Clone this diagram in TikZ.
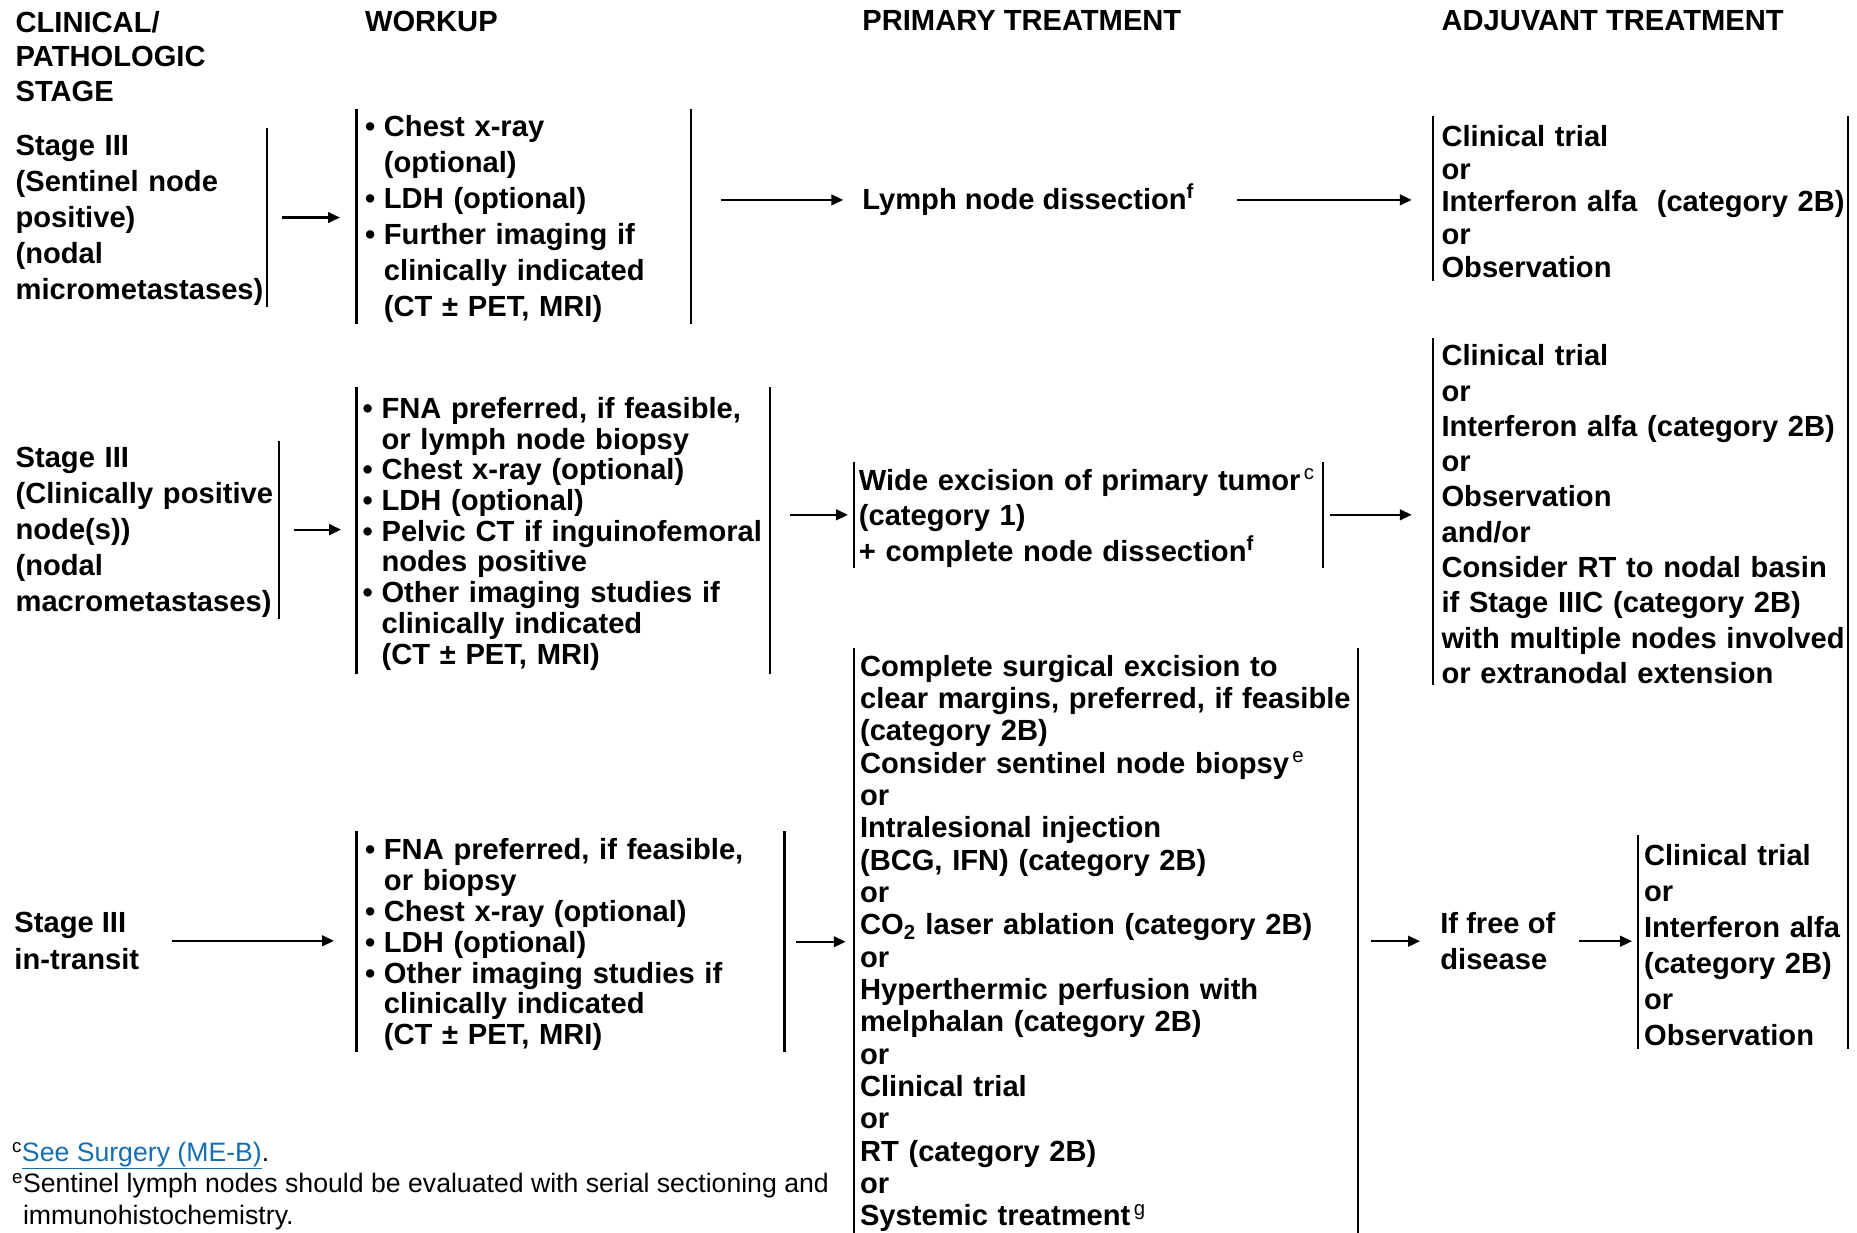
\documentclass[tikz,border=0pt]{standalone}
\usepackage{fontspec}
\setmainfont{Liberation Sans}
\usepackage{tikz}
\usetikzlibrary{arrows.meta}
\hyphenpenalty=10000
\exhyphenpenalty=10000
\definecolor{link}{RGB}{20,110,175}
\tikzset{>={Triangle[length=10pt,width=9pt]}}
\newcommand\barwidth{1.8pt}
\newcommand\bulletbox{16pt}
\newcommand\bul{\makebox[\bulletbox][l]{\textbullet}}
\newcommand\bcont{\hspace*{\bulletbox}}
\tikzset{
    lead/.style = {font=\bfseries\fontsize{24.6}{#1}\selectfont},
    txt/.style = {inner sep=0pt, anchor=north west, align=left},
    nodesc/.style = {execute at end node={\par\kern-5pt}},
    blk/.style = {txt, nodesc, inner xsep=7pt},
    bar/.style = {line width=\barwidth},
    arr/.style = {->, line width=\barwidth},
}

\begin{document}
\begin{tikzpicture}[x=1pt, y=-1pt, every node/.style={lead=30}]
    \useasboundingbox (0,0) rectangle (1568,1041);
    % headings
    \node[txt, lead=29.5] (hstage) at (13,9) {CLINICAL/\\PATHOLOGIC\\STAGE};
    \node[txt] (hwork) at (308,9) {WORKUP};
    \node[txt] (hprim) at (728,9) {PRIMARY TREATMENT};
    \node[txt] (hadj) at (1217,9) {ADJUVANT TREATMENT};
    % stage
    \node[txt, nodesc, text width=212pt, minimum height=151pt, lead=30.5] (st1) at (13,108)
        {Stage III\\(Sentinel node\\positive)\\(nodal\\micrometastases)};
    \node[txt, nodesc, text width=222pt, minimum height=150pt, lead=30.3] (st2) at (13,372)
        {Stage III\\(Clinically positive\\node(s))\\(nodal\\macrometastases)};
    \node[txt, lead=31] (st3) at (12,770) {Stage III\\in-transit};
    % workup
    \node[blk, text width=268pt, minimum height=181pt, lead=30.4] (wk1) at (301,92)
        {\bul Chest x-ray\\\bcont(optional)\\\bul LDH (optional)\\\bul Further imaging if\\
         \bcont clinically indicated\\\bcont(CT ± PET, MRI)};
    \node[blk, inner xsep=5pt, text width=339pt, minimum height=242pt, lead=25.9] (wk2) at (301,327)
        {\bul FNA preferred, if feasible,\\\bcont or lymph node biopsy\\\bul Chest x-ray (optional)\\
         \bul LDH (optional)\\\bul Pelvic CT if inguinofemoral\\\bcont nodes positive\\
         \bul Other imaging studies if\\\bcont clinically indicated\\\bcont(CT ± PET, MRI)};
    \node[blk, text width=347pt, minimum height=186pt, lead=26] (wk3) at (301,702)
        {\bul FNA preferred, if feasible,\\\bcont or biopsy\\\bul Chest x-ray (optional)\\
         \bul LDH (optional)\\\bul Other imaging studies if\\\bcont clinically indicated\\
         \bcont(CT ± PET, MRI)};
    % primary treatment
    \node[txt, anchor=base west] (lnd) at (728,177) {Lymph node dissection\textsuperscript{f}};
    \node[blk, inner xsep=4pt, text width=388pt, minimum height=89pt, lead=30] (pr2) at (721,390)
        {Wide excision of primary tumor\textsuperscript{\,\mdseries c}\\(category 1)\\
         + complete node dissection\textsuperscript{f}};
    \node[blk, inner xsep=5pt, text width=415pt, minimum height=494pt, lead=27.3] (pr3) at (721,547)
        {Complete surgical excision to\\clear margins, preferred, if feasible\\(category 2B)\\
         Consider sentinel node biopsy\textsuperscript{\,\mdseries e}\\or\\Intralesional injection\\
         (BCG, IFN) (category 2B)\\or\\CO\textsubscript{2} laser ablation (category 2B)\\or\\
         Hyperthermic perfusion with\\melphalan (category 2B)\\or\\Clinical trial\\or\\
         RT (category 2B)\\or\\Systemic treatment\textsuperscript{\,\mdseries g}};
    \node[txt, lead=31] (fre) at (1216,770) {If free of\\disease};
    % adjuvant treatment
    \node[blk, text width=345pt, minimum height=139pt, lead=27.7] (ad1) at (1210,98)
        {Clinical trial\\or\\Interferon alfa~ (category 2B)\\or\\Observation};
    \node[blk, text width=345pt, minimum height=293pt, lead=29.8] (ad2) at (1210,285)
        {Clinical trial\\or\\Interferon alfa (category 2B)\\or\\Observation\\and/or\\
         Consider RT to nodal basin\\if Stage IIIC (category 2B)\\with multiple nodes involved\\
         or extranodal extension};
    \node[blk, inner xsep=5pt, text width=167pt, minimum height=180pt, lead=30.4] (ad3) at (1383,705)
        {Clinical trial\\or\\Interferon alfa\\(category 2B)\\or\\Observation};
    % box sides
    \foreach \n in {wk1,wk2,wk3,pr2,pr3}
        \draw[bar] (\n.north west) -- (\n.south west) (\n.north east) -- (\n.south east);
    \foreach \n in {st1,st2}
        \draw[bar] (\n.north east) -- (\n.south east);
    \foreach \n in {ad1,ad2,ad3}
        \draw[bar] (\n.north west) -- (\n.south west);
    \draw[bar] (ad3.east |- ad1.north) -- (ad3.south east);
    % arrows
    \draw[arr, shorten <=13pt, shorten >=14pt] (st1.east) -- (wk1.west |- st1.east);
    \draw[arr, shorten <=25pt, shorten >=16pt] (wk1.east |- lnd.west) -- (lnd.west);
    \draw[arr, shorten <=36pt, shorten >=18pt] (lnd.east) -- (ad1.west |- lnd.east);
    \draw[arr, shorten <=13pt, shorten >=13pt] (st2.east) -- (wk2.west |- st2.east);
    \draw[arr, shorten <=17pt, shorten >=5pt] (wk2.east |- pr2.west) -- (pr2.west);
    \draw[arr, shorten <=6pt, shorten >=18pt] (pr2.east) -- (ad2.west |- pr2.east);
    \draw[arr, shorten <=28pt, shorten >=19pt] (st3.east) -- (wk3.west |- st3.east);
    \draw[arr, shorten <=10pt, shorten >=7pt] (wk3.east) -- (pr3.west |- wk3.east);
    \draw[arr, shorten <=11pt, shorten >=17pt] (pr3.east |- fre.west) -- (fre.west);
    \draw[arr, shorten <=20pt, shorten >=5pt] (fre.east) -- (ad3.west |- fre.east);
    % footnotes
    \node[txt, font=\fontsize{22.5}{26.5}\selectfont] (fn) at (10,964)
        {\textsuperscript{c}\textcolor{link}{\underline{See Surgery (ME-B)}}.\\
         \textsuperscript{e}Sentinel lymph nodes should be evaluated with serial sectioning and\\
         \hphantom{\textsuperscript{e}}immunohistochemistry.};
\end{tikzpicture}
\end{document}
